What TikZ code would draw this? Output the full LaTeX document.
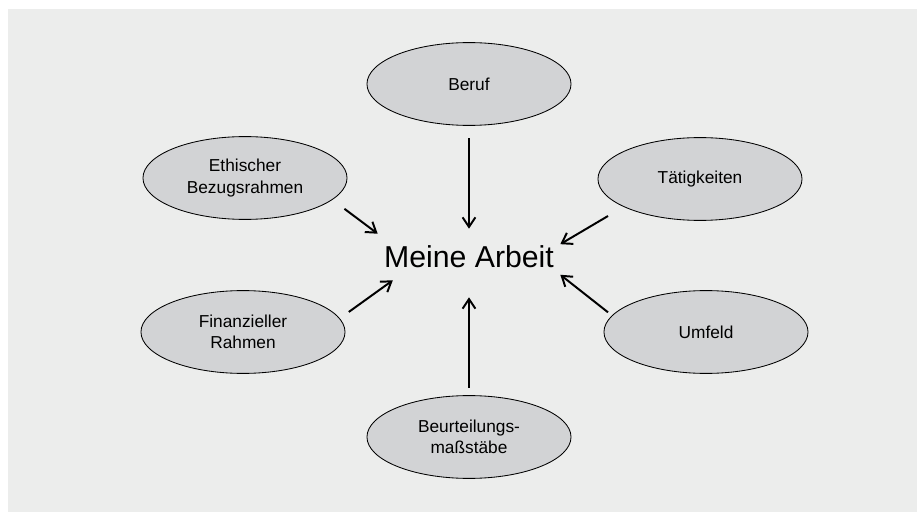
\documentclass[tikz,border=0pt]{standalone}
\usepackage{fontspec}
\setmainfont{Liberation Sans}
\usetikzlibrary{positioning}
\usetikzlibrary{calc}
\usetikzlibrary{shapes.geometric}
\usetikzlibrary{arrows.meta}

\definecolor{bggray}{RGB}{236,237,236}
\definecolor{ellgray}{RGB}{210,211,213}

\tikzset{
  topic/.style={ellipse, draw=black, line width=0.6pt, fill=ellgray, inner sep=0pt,
    minimum width=5.1cm, minimum height=2.07cm, align=center,
    font=\fontsize{12.3}{15.3}\selectfont},
  arr/.style={line width=1.4pt, -{Straight Barb[length=2.4mm,width=3.2mm,line width=1.4pt]}}
}

\begin{document}
\begin{tikzpicture}[x=0.025cm,y=-0.025cm]
\useasboundingbox (0,0) rectangle (917,512);
\fill[bggray] (8,9) rectangle (917,512);

\node[minimum width=4.55cm, minimum height=1.15cm, inner sep=0pt,
  font=\fontsize{21.5}{26}\selectfont] (arbeit) at (469,257) {Meine Arbeit};

\node[topic] (beruf) at (469,84) {Beruf};
\node[topic] (ethisch) at (245,178) {Ethischer\\Bezugsrahmen};
\node[topic] (taetig) at (700,179) {Tätigkeiten};
\node[topic] (finanz) at (243,332) {Finanzieller\\Rahmen};
\node[topic] (umfeld) at (706,332) {Umfeld};
\node[topic] (beurteil) at (469,437) {Beurteilungs-\\maßstäbe};

\draw[arr, shorten <=3.1mm, shorten >=1.25mm] (beruf) -- (arbeit);
\draw[arr, shorten <=1.9mm, shorten >=4.25mm] (beurteil) -- (arbeit);
\draw[arr, shorten <=3.75mm] (ethisch.-14) -- (arbeit.north west);
\draw[arr, shorten <=4.5mm] (taetig.200) -- (arbeit.8);
\draw[arr, shorten <=1.25mm] (umfeld.170) -- (arbeit.-11);
\draw[arr, shorten <=2.75mm] (finanz.8) -- (arbeit.197);
\end{tikzpicture}
\end{document}
